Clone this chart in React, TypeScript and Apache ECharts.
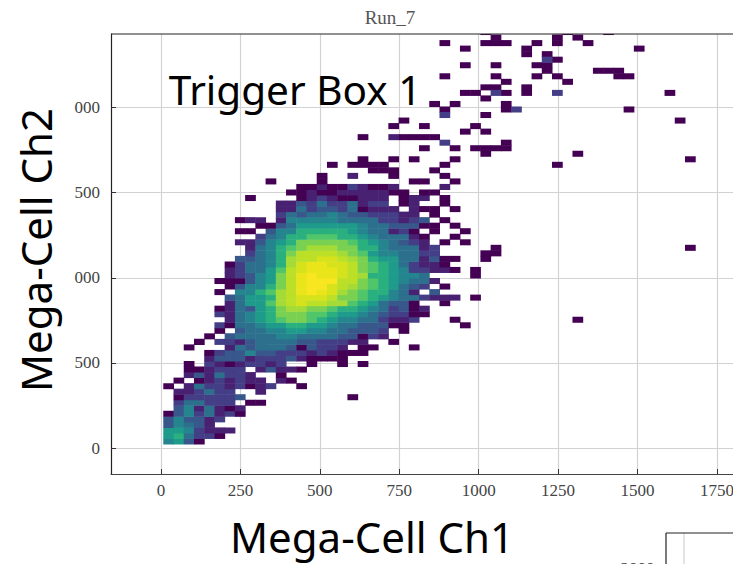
import React, { useEffect, useRef } from "react";
import * as echarts from "echarts";

const chartTitle = "Run_7";
const boxLabel = "Trigger Box 1";
const xAxisTitle = "Mega-Cell Ch1";
const yAxisTitle = "Mega-Cell Ch2";

const xTicks = [0, 250, 500, 750, 1000, 1250, 1500, 1750];
const yTicks = [0, 500, 1000, 1500, 2000];
// The reference's y labels are cut off on their left by an overlaid panel.
const yTickLabels = ["0", "500", "000", "500", "000"];

const xBinStart = 7.2;
const xBinWidth = 32.2;
const yBinStart = 23.5;
const yBinHeight = 32.5;

// One string per y bin (lowest first), one character per x bin:
// "." is an empty bin, 1..f the colour level of the bin.
const binRows = [
  "6741",
  "785331",
  "7763222",
  "46542",
  "464423",
  "14635231",
  ".4625212",
  ".355333.11",
  ".1333334..........1",
  ".223533..2",
  "1.253323123..1",
  ".1.1232322.21",
  "..2425332..1",
  "..112333.24221",
  "..1.32123323..1..1.1",
  "....24442333421111",
  "....1344644333232111",
  "..1...254555414332.11...1",
  "...1.332455554433322..1",
  "....1.4555566555544132",
  ".....1.455667766554443.1",
  ".....3155677887765544411.....1",
  "......256789aa98766553223...1...........1",
  ".....325678aaa998776543311",
  ".....125478abbaa9887653412",
  "......25779bcdccbb9875441..1",
  "......45778bcdddcaa9876553222.1",
  ".....1.6689bcefedba988652.4",
  "......14668aceffdcba987543.1",
  ".....111467acefffcca9876552",
  "......23467acefeedcb887665....1",
  "......235579cdeeedca987633221.1",
  "......135568bdeeddca98753221",
  ".......44568bccddcba877552411..1",
  "........3568accccba97665533....11",
  "........25689abbbaa88655523.....1",
  ".......224678aaaaa98765432.1.1",
  ".........35688999887655521..1",
  ".......11.466888887655231.1..1",
  ".........114577777765544411.1",
  ".......122.266666555533234.1",
  "...........35455654433322.1",
  "...........225344351222.211.1",
  "...........22435335233.12..1",
  "........1....123211222.122.1",
  "............112112222211.11",
  ".............1121132112....2",
  "..........1....1........11..1",
  "...............1..2...1....1",
  "....................111...1",
];

// Sparse upper bins: [y bin, x bins...], all of the lowest colour level.
const sparseBins: number[][] = [
  [35, 51],
  [50, 16, 18, 19, 20, 21, 27, 38],
  [51, 19, 22, 24, 28, 51],
  [52, 31, 40],
  [53, 25, 28, 30, 31, 32, 33],
  [54, 33],
  [55, 19, 23, 24, 25, 26],
  [56, 29, 31],
  [57, 22, 25, 30],
  [58, 23, 50],
  [59, 31],
  [60, 27, 33, 45],
  [61, 26, 28, 33],
  [62, 31],
  [63, 29, 30, 33, 35, 49],
  [64, 31, 32, 35],
  [65, 33, 39],
  [66, 27, 32, 36, 38, 44, 45],
  [67, 37, 42, 43, 44],
  [68, 29, 32, 36, 37],
  [69, 38],
  [70, 35, 37],
  [71, 29, 35, 46],
  [72, 27, 31, 32, 33, 36, 38, 41],
  [73, 32, 38, 40],
  [74, 31, 39, 43],
];

// Sparse bins one step brighter: [x bin, y bin, level].
const tintedBins: number[][] = [
  [27, 54, 3],
  [22, 55, 2],
  [27, 59, 3],
  [34, 60, 3],
  [32, 63, 3],
  [38, 63, 3],
  [37, 69, 3],
];

const viridisLevels = [
  "#440154", "#482173", "#433e85", "#38588c", "#2d708e", "#25858e", "#1e9b8a",
  "#2ab07f", "#51c56a", "#7ad151", "#a5db36", "#bcdf27", "#d6e21b", "#eae51a", "#f8e621",
];

const cells: number[][] = [];
const addCell = (col: number, row: number, level: number) => {
  cells.push([xBinStart + col * xBinWidth, yBinStart + row * yBinHeight, level]);
};
binRows.forEach((line, row) => {
  line.split("").forEach((ch, col) => {
    if (ch !== ".") addCell(col, row, parseInt(ch, 16));
  });
});
sparseBins.forEach(([row, ...cols]) => cols.forEach((col) => addCell(col, row, 1)));
tintedBins.forEach(([col, row, level]) => addCell(col, row, level));

const serif = "'Liberation Serif', serif";
const sans = "'Noto Sans', sans-serif";

export default function App() {
  const ref = useRef<HTMLDivElement>(null);
  useEffect(() => {
    if (!ref.current) return;
    const chart = echarts.init(ref.current, undefined, { renderer: "svg" });
    chart.setOption({
      animation: false,
      backgroundColor: "#ffffff",
      title: {
        text: chartTitle,
        left: 385,
        top: 3,
        textAlign: "center",
        textStyle: { fontFamily: serif, fontSize: 19, fontWeight: "normal", color: "#555555" },
      },
      grid: { left: 111, top: 34, right: 0, height: 440, outerBoundsMode: "none" },
      xAxis: {
        type: "value",
        min: -157.4,
        max: 1800.5,
        axisLine: { show: true, onZero: false, lineStyle: { color: "#444444", width: 1.2 } },
        axisTick: { show: true, inside: true, length: 5, customValues: xTicks, lineStyle: { color: "#333333", width: 1 } },
        axisLabel: {
          customValues: xTicks,
          margin: 8,
          fontFamily: serif,
          fontSize: 17,
          color: "#444444",
          formatter: (v: number) => String(v),
        },
        splitLine: { show: true, lineStyle: { color: "#d2d2d2", width: 1.2 } },
      },
      yAxis: {
        type: "value",
        min: -152.7,
        max: 2431.7,
        axisLine: { show: true, onZero: false, lineStyle: { color: "#222222", width: 1.2 } },
        axisTick: { show: true, inside: true, length: 5, customValues: yTicks, lineStyle: { color: "#333333", width: 1 } },
        axisLabel: {
          customValues: yTicks,
          margin: 11,
          fontFamily: serif,
          fontSize: 17,
          color: "#444444",
          formatter: (v: number) => yTickLabels[yTicks.indexOf(v)] ?? "",
        },
        splitLine: { show: true, lineStyle: { color: "#d2d2d2", width: 1.2 } },
      },
      visualMap: {
        show: false,
        type: "continuous",
        dimension: 2,
        min: 1,
        max: 15,
        inRange: { color: viridisLevels },
      },
      series: [
        {
          type: "custom",
          clip: true,
          encode: { x: 0, y: 1 },
          data: cells,
          renderItem: (_p: any, api: any) => {
            const x = api.value(0);
            const y = api.value(1);
            const a = api.coord([x, y + yBinHeight]);
            const b = api.coord([x + xBinWidth, y]);
            return {
              type: "rect",
              shape: { x: a[0], y: a[1], width: b[0] - a[0] + 0.5, height: b[1] - a[1] + 0.5 },
              style: { fill: api.visual("color") },
            };
          },
        },
      ],
      graphic: [
        {
          type: "line",
          z: 10,
          shape: { x1: 111, y1: 34, x2: 733, y2: 34 },
          style: { stroke: "#222222", lineWidth: 1.2 },
        },
        {
          type: "text",
          z: 10,
          x: 295,
          y: 89,
          style: { text: boxLabel, fontFamily: sans, fontSize: 40.5, fill: "#000000", textAlign: "center", textVerticalAlign: "middle" },
        },
        {
          type: "text",
          x: 372,
          y: 536,
          style: { text: xAxisTitle, fontFamily: sans, fontSize: 42, fill: "#000000", textAlign: "center", textVerticalAlign: "middle" },
        },
        {
          type: "text",
          x: 35,
          y: 250,
          rotation: Math.PI / 2,
          style: { text: yAxisTitle, fontFamily: sans, fontSize: 42, fill: "#000000", textAlign: "center", textVerticalAlign: "middle" },
        },
        { type: "line", shape: { x1: 684, y1: 533, x2: 684, y2: 564 }, style: { stroke: "#d2d2d2", lineWidth: 1.2 } },
        { type: "line", shape: { x1: 666, y1: 533, x2: 733, y2: 533 }, style: { stroke: "#222222", lineWidth: 1.2 } },
        { type: "line", shape: { x1: 666, y1: 533, x2: 666, y2: 564 }, style: { stroke: "#222222", lineWidth: 1.2 } },
        {
          type: "text",
          x: 637.5,
          y: 568,
          style: { text: "2000", fontFamily: serif, fontSize: 17, fill: "#444444", textAlign: "center", textVerticalAlign: "middle" },
        },
      ],
    });
    return () => chart.dispose();
  }, []);
  return <div ref={ref} style={{ position: "fixed", left: 0, top: 0, width: 733, height: 564 }} />;
}
